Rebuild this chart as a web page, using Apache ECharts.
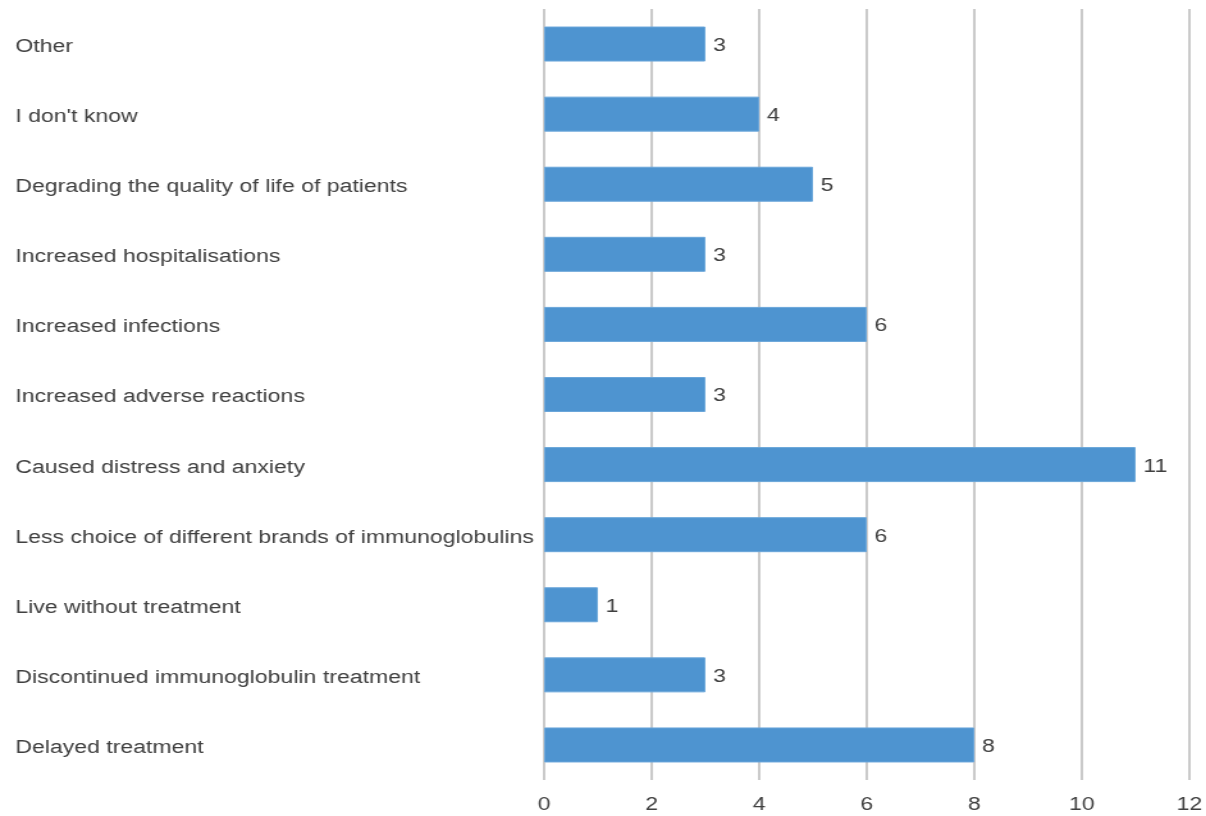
<!DOCTYPE html>
<html>
<head>
<meta charset="utf-8">
<script src="https://cdn.jsdelivr.net/npm/echarts@6/dist/echarts.min.js"></script>
<style>
  html, body { margin: 0; padding: 0; background: #ffffff; overflow: hidden; }
  /* The chart is laid out on a narrower canvas and widened to fill the page,
     which gives the broad, stretched lettering of the original export. */
  #chart {
    width: 942px;
    height: 816px;
    transform: scaleX(1.2803);
    transform-origin: 0 0;
  }
</style>
</head>
<body>
<div id="chart"></div>
<script>
// Reasons listed bottom-to-top so that "Other" ends up at the top of the category axis
const categories = [
  'Delayed treatment',
  'Discontinued immunoglobulin treatment',
  'Live without treatment',
  'Less choice of different brands of immunoglobulins',
  'Caused distress and anxiety',
  'Increased adverse reactions',
  'Increased infections',
  'Increased hospitalisations',
  'Degrading the quality of life of patients',
  "I don't know",
  'Other'
];
const counts = [8, 3, 1, 6, 11, 3, 6, 3, 5, 4, 3];
const xTicks = [0, 2, 4, 6, 8, 10, 12];

const textColor = '#404040';
const fontFamily = '"Liberation Sans", Arial, sans-serif';

const chart = echarts.init(document.getElementById('chart'), null, { renderer: 'canvas' });
chart.setOption({
  animation: false,
  backgroundColor: '#ffffff',
  grid: { left: 425, right: 12.5, top: 9, bottom: 36, containLabel: false },
  xAxis: {
    type: 'value',
    min: xTicks[0],
    max: xTicks[xTicks.length - 1],
    interval: 2,
    axisLine: { show: false },
    axisTick: { show: false },
    splitLine: { show: true, lineStyle: { color: '#bdbdbd', width: 1.6 } },
    axisLabel: { color: textColor, fontSize: 18, fontFamily: fontFamily, margin: 16 }
  },
  yAxis: {
    type: 'category',
    data: categories,
    axisLine: { show: false },
    axisTick: { show: false },
    splitLine: { show: false },
    axisLabel: {
      align: 'left',
      margin: 413,
      formatter: '{c|{value}}',
      rich: {
        c: {
          color: textColor,
          fontSize: 18,
          fontFamily: fontFamily,
          padding: [6, 0, 0, 0]
        }
      }
    }
  },
  series: [{
    type: 'bar',
    data: counts,
    barWidth: 35,
    itemStyle: { color: '#4e94d0', borderColor: '#6aa6da', borderWidth: 1 },
    label: {
      show: true,
      position: 'right',
      distance: 6,
      offset: [0, 2],
      color: textColor,
      fontSize: 18,
      fontFamily: fontFamily
    }
  }]
});
</script>
</body>
</html>
